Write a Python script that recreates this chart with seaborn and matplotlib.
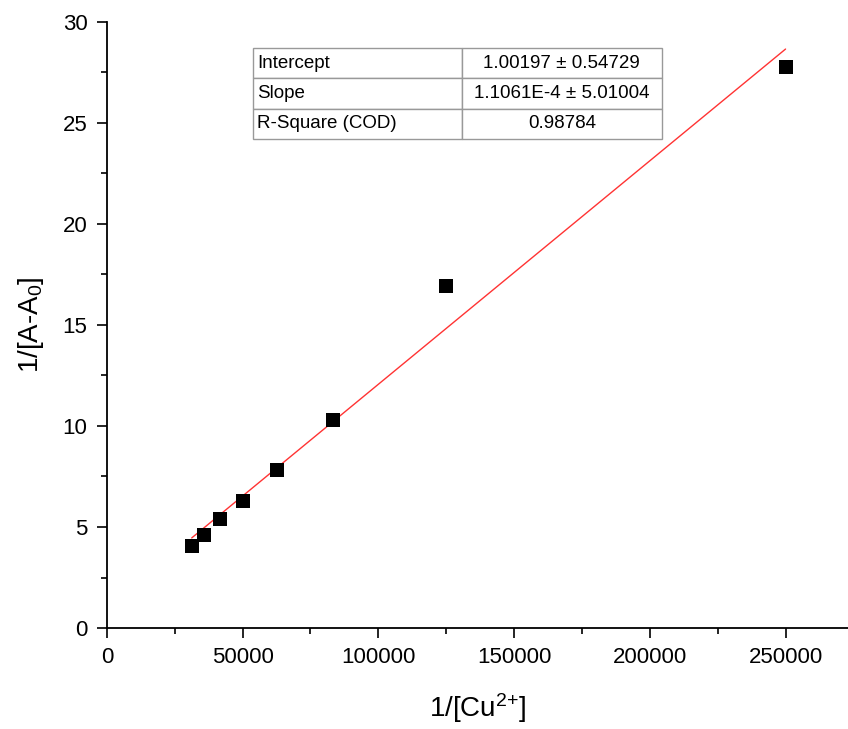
import numpy as np
import pandas as pd
import matplotlib
matplotlib.use("Agg")
import matplotlib.pyplot as plt
import seaborn as sns
from matplotlib.ticker import MultipleLocator

inv_cu = [31250, 35714, 41667, 50000, 62500, 83333, 125000, 250000]
inv_a = [4.05, 4.6, 5.38, 6.3, 7.8, 10.3, 16.95, 27.75]
intercept = 1.00197
slope = 1.1061e-4
table_rows = [["Intercept", "1.00197 ± 0.54729"],
              ["Slope", "1.1061E-4 ± 5.01004"],
              ["R-Square (COD)", "0.98784"]]

sns.set_theme(style="ticks")
plt.rcParams['font.family'] = ['Liberation Sans', 'DejaVu Sans']
plt.rcParams['mathtext.default'] = 'regular'
plt.rcParams['text.color'] = 'black'
plt.rcParams['axes.labelcolor'] = 'black'
plt.rcParams['xtick.color'] = 'black'
plt.rcParams['ytick.color'] = 'black'

df = pd.DataFrame({"x": inv_cu, "y": inv_a})
fig = plt.figure(figsize=(8.48, 7.29), dpi=100)
ax = fig.add_axes([0.126, 0.1385, 0.874, 0.8315])

xf = np.array([min(inv_cu), max(inv_cu)])
fit = pd.DataFrame({"x": xf, "y": intercept + slope * xf})
sns.lineplot(data=fit, x="x", y="y", ax=ax, color="#ff3333", linewidth=1.0)
sns.scatterplot(data=df, x="x", y="y", ax=ax, marker="s", s=110, color="black",
                edgecolor="black", linewidth=0, zorder=3)

ax.set_xlim(0, 273000)
ax.set_ylim(0, 30)
ax.xaxis.set_major_locator(MultipleLocator(50000))
ax.xaxis.set_minor_locator(MultipleLocator(25000))
ax.yaxis.set_major_locator(MultipleLocator(5))
ax.yaxis.set_minor_locator(MultipleLocator(2.5))
ax.tick_params(which="major", length=7, width=1.2, labelsize=16, colors="black", pad=7)
ax.tick_params(which="minor", length=4, width=1.2, colors="black")
for s in ["top", "right"]:
    ax.spines[s].set_visible(False)
for s in ["left", "bottom"]:
    ax.spines[s].set_linewidth(1.3)
    ax.spines[s].set_color("black")
ax.set_xlabel("1/[Cu$^{2{+}}$]", fontsize=20, labelpad=16, color="black")
ax.set_ylabel("1/[A-A$_0$]", fontsize=20, labelpad=12, color="black")

tbl = ax.table(cellText=table_rows, colWidths=[0.51, 0.49], cellLoc="left",
               bbox=[253/848, 1-139/729, 409/848, 91/729], transform=fig.transFigure)
tbl.auto_set_font_size(False)
tbl.set_fontsize(13.5)
for (r, c), cell in tbl.get_celld().items():
    cell.set_edgecolor("#999999")
    cell.set_linewidth(1.0)
    cell.PAD = 0.02
    cell.get_text().set_color("black")
    if c == 1:
        cell.get_text().set_ha("center")
        cell._loc = "center"

fig.savefig("out.png", dpi=100)
